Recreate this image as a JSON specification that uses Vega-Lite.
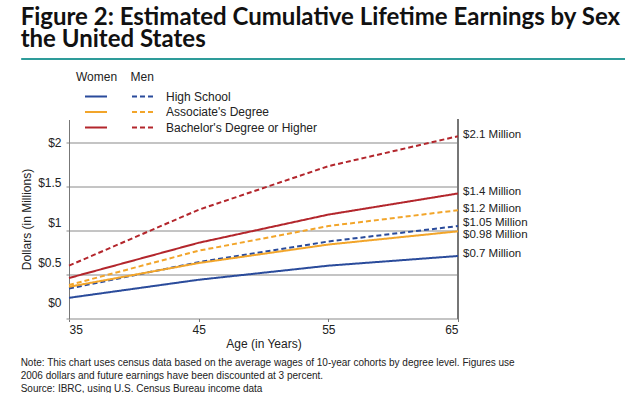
{
  "$schema": "https://vega.github.io/schema/vega-lite/v6.json",
  "padding": {"left": 20, "top": 6, "right": 0, "bottom": 0},
  "background": "white",
  "config": {
    "font": "Liberation Sans"
  },
  "title": {
    "text": ["Figure 2: Estimated Cumulative Lifetime Earnings by Sex", "the United States"],
    "anchor": "start",
    "font": "Lato",
    "fontSize": 24,
    "fontWeight": "bold",
    "color": "#111111",
    "lineHeight": 21.6,
    "offset": 6
  },
  "datasets": {
    "earnings": [
      {"age": 35, "series": "Women High School", "value": 0.235},
      {"age": 45, "series": "Women High School", "value": 0.44},
      {"age": 55, "series": "Women High School", "value": 0.6},
      {"age": 65, "series": "Women High School", "value": 0.71, "endLabel": "$0.7 Million"},
      {"age": 35, "series": "Men High School", "value": 0.34},
      {"age": 45, "series": "Men High School", "value": 0.64},
      {"age": 55, "series": "Men High School", "value": 0.875},
      {"age": 65, "series": "Men High School", "value": 1.05, "endLabel": "$1.05 Million"},
      {"age": 35, "series": "Women Associate's Degree", "value": 0.36},
      {"age": 45, "series": "Women Associate's Degree", "value": 0.63},
      {"age": 55, "series": "Women Associate's Degree", "value": 0.84},
      {"age": 65, "series": "Women Associate's Degree", "value": 0.99, "endLabel": "$0.98 Million"},
      {"age": 35, "series": "Men Associate's Degree", "value": 0.38},
      {"age": 45, "series": "Men Associate's Degree", "value": 0.77},
      {"age": 55, "series": "Men Associate's Degree", "value": 1.05},
      {"age": 65, "series": "Men Associate's Degree", "value": 1.23, "endLabel": "$1.2 Million"},
      {"age": 35, "series": "Women Bachelor's Degree or Higher", "value": 0.46},
      {"age": 45, "series": "Women Bachelor's Degree or Higher", "value": 0.86},
      {"age": 55, "series": "Women Bachelor's Degree or Higher", "value": 1.18},
      {"age": 65, "series": "Women Bachelor's Degree or Higher", "value": 1.42, "endLabel": "$1.4 Million"},
      {"age": 35, "series": "Men Bachelor's Degree or Higher", "value": 0.6},
      {"age": 45, "series": "Men Bachelor's Degree or Higher", "value": 1.235},
      {"age": 55, "series": "Men Bachelor's Degree or Higher", "value": 1.73},
      {"age": 65, "series": "Men Bachelor's Degree or Higher", "value": 2.07, "endLabel": "$2.1 Million"}
    ]
  },
  "columns": 1,
  "align": "none",
  "spacing": 11.5,
  "resolve": {
    "scale": {"color": "independent", "strokeDash": "independent"},
    "legend": {"color": "independent", "strokeDash": "independent"}
  },
  "concat": [
    {
      "width": 556,
      "height": 2,
      "view": {"stroke": null},
      "data": {"values": [{}]},
      "mark": {"type": "rect", "color": "#2e9c9a", "clip": false},
      "encoding": {
        "x": {"datum": -0.086, "type": "quantitative", "scale": {"domain": [0, 1], "nice": false, "zero": false}, "axis": null},
        "x2": {"datum": 1}
      }
    },
    {
      "width": 389,
      "height": 199,
      "view": {"stroke": null},
      "data": {"name": "earnings"},
      "title": {
        "text": [
          "Note: This chart uses census data based on the average wages of 10-year cohorts by degree level. Figures use",
          "2006 dollars and future earnings have been discounted at 3 percent.",
          "Source: IBRC, using U.S. Census Bureau income data"
        ],
        "orient": "bottom",
        "anchor": "start",
        "frame": "bounds",
        "font": "Liberation Sans",
        "fontSize": 10,
        "fontWeight": "normal",
        "color": "#222",
        "lineHeight": 13.3,
        "offset": 8
      },
      "layer": [
        {
          "mark": {"type": "rule", "color": "#777", "strokeWidth": 1},
          "encoding": {"x": {"datum": 65, "type": "quantitative", "scale": {"domain": [35, 65], "nice": false, "zero": false}}}
        },
        {
          "mark": {"type": "line", "strokeWidth": 2},
          "encoding": {
            "x": {
              "field": "age", "type": "quantitative",
              "scale": {"domain": [35, 65], "nice": false, "zero": false},
              "axis": {
                "values": [35, 45, 55, 65],
                "title": "Age (in Years)",
                "titleFontSize": 12, "titleFontWeight": "normal", "titleColor": "#222", "titlePadding": 3,
                "labelFontSize": 12, "labelColor": "#222", "labelPadding": 3,
                "domain": false, "grid": false,
                "tickSize": 3, "tickColor": "#777"
              }
            },
            "y": {
              "field": "value", "type": "quantitative",
              "scale": {"domain": [0, 2.26], "nice": false},
              "axis": {
                "values": [0, 0.5, 1, 1.5, 2],
                "labelExpr": "'$' + datum.value",
                "title": "Dollars (in Millions)",
                "titleFontSize": 12, "titleFontWeight": "normal", "titleColor": "#222", "titlePadding": 4,
                "labelFontSize": 12, "labelColor": "#222", "labelPadding": 5,
                "domainColor": "#777", "domainWidth": 1,
                "grid": true,
                "gridColor": {"condition": {"test": "datum.value === 1 || datum.value === 1.5", "value": "#8a8a8a"}, "value": "#c4c4c4"},
                "gridWidth": {"condition": {"test": "datum.value === 1 || datum.value === 1.5", "value": 1}, "value": 2},
                "tickColor": {"condition": {"test": "datum.value === 1 || datum.value === 1.5", "value": "#8a8a8a"}, "value": "#c4c4c4"},
                "tickWidth": {"condition": {"test": "datum.value === 1 || datum.value === 1.5", "value": 1}, "value": 2},
                "tickSize": 3,
                "labelOffset": {
                  "condition": [
                    {"test": "datum.value === 0", "value": -16.4},
                    {"test": "datum.value === 0.5", "value": -12.3},
                    {"test": "datum.value === 1", "value": -8.2},
                    {"test": "datum.value === 1.5", "value": -4.1}
                  ],
                  "value": 0
                }
              }
            },
            "color": {
              "field": "series", "type": "nominal",
              "scale": {
                "domain": ["Women High School", "Women Associate's Degree", "Women Bachelor's Degree or Higher", "Men High School", "Men Associate's Degree", "Men Bachelor's Degree or Higher"],
                "range": ["#2a4b9b", "#f2a52a", "#b3262c", "#2a4b9b", "#f2a52a", "#b3262c"]
              },
              "legend": {
                "orient": "none", "legendX": 7, "legendY": -48,
                "columns": 2,
                "title": "Women\u00a0\u00a0\u00a0\u00a0Men",
                "titleFontSize": 12, "titleFontWeight": "normal", "titleColor": "#222", "titlePadding": 4,
                "labelFontSize": 12, "labelColor": "#222",
                "labelExpr": "indexof(datum.label, 'Men ') === 0 ? substring(datum.label, 4) : ''",
                "symbolType": "M0,0L2.75,0", "symbolSize": 256, "symbolStrokeWidth": 2,
                "labelOffset": 25, "columnPadding": 4, "rowPadding": 0.5, "padding": 0
              }
            },
            "strokeDash": {
              "field": "series", "type": "nominal",
              "scale": {
                "domain": ["Women High School", "Women Associate's Degree", "Women Bachelor's Degree or Higher", "Men High School", "Men Associate's Degree", "Men Bachelor's Degree or Higher"],
                "range": [[1, 0], [1, 0], [1, 0], [5, 3], [5, 3], [5, 3]]
              },
              "legend": {
                "orient": "none", "legendX": 7, "legendY": -48,
                "columns": 2,
                "title": "Women\u00a0\u00a0\u00a0\u00a0Men",
                "titleFontSize": 12, "titleFontWeight": "normal", "titleColor": "#222", "titlePadding": 4,
                "labelFontSize": 12, "labelColor": "#222",
                "labelExpr": "indexof(datum.label, 'Men ') === 0 ? substring(datum.label, 4) : ''",
                "symbolType": "M0,0L2.75,0", "symbolSize": 256, "symbolStrokeWidth": 2,
                "labelOffset": 25, "columnPadding": 4, "rowPadding": 0.5, "padding": 0
              }
            }
          }
        },
        {
          "transform": [{"filter": "datum.age === 65 && datum.endLabel !== '$0.98 Million' && datum.endLabel !== '$1.05 Million'"}],
          "mark": {"type": "text", "align": "left", "baseline": "middle", "dx": 5, "dy": -1.5, "fontSize": 11.5, "color": "#222"},
          "encoding": {
            "x": {"field": "age", "type": "quantitative"},
            "y": {"field": "value", "type": "quantitative"},
            "text": {"field": "endLabel"}
          }
        },
        {
          "transform": [{"filter": "datum.endLabel === '$1.05 Million'"}],
          "mark": {"type": "text", "align": "left", "baseline": "middle", "dx": 5, "dy": -3, "fontSize": 11.5, "color": "#222"},
          "encoding": {
            "x": {"field": "age", "type": "quantitative"},
            "y": {"field": "value", "type": "quantitative"},
            "text": {"field": "endLabel"}
          }
        },
        {
          "transform": [{"filter": "datum.endLabel === '$0.98 Million'"}],
          "mark": {"type": "text", "align": "left", "baseline": "middle", "dx": 5, "dy": 4, "fontSize": 11.5, "color": "#222"},
          "encoding": {
            "x": {"field": "age", "type": "quantitative"},
            "y": {"field": "value", "type": "quantitative"},
            "text": {"field": "endLabel"}
          }
        }
      ]
    }
  ]
}
